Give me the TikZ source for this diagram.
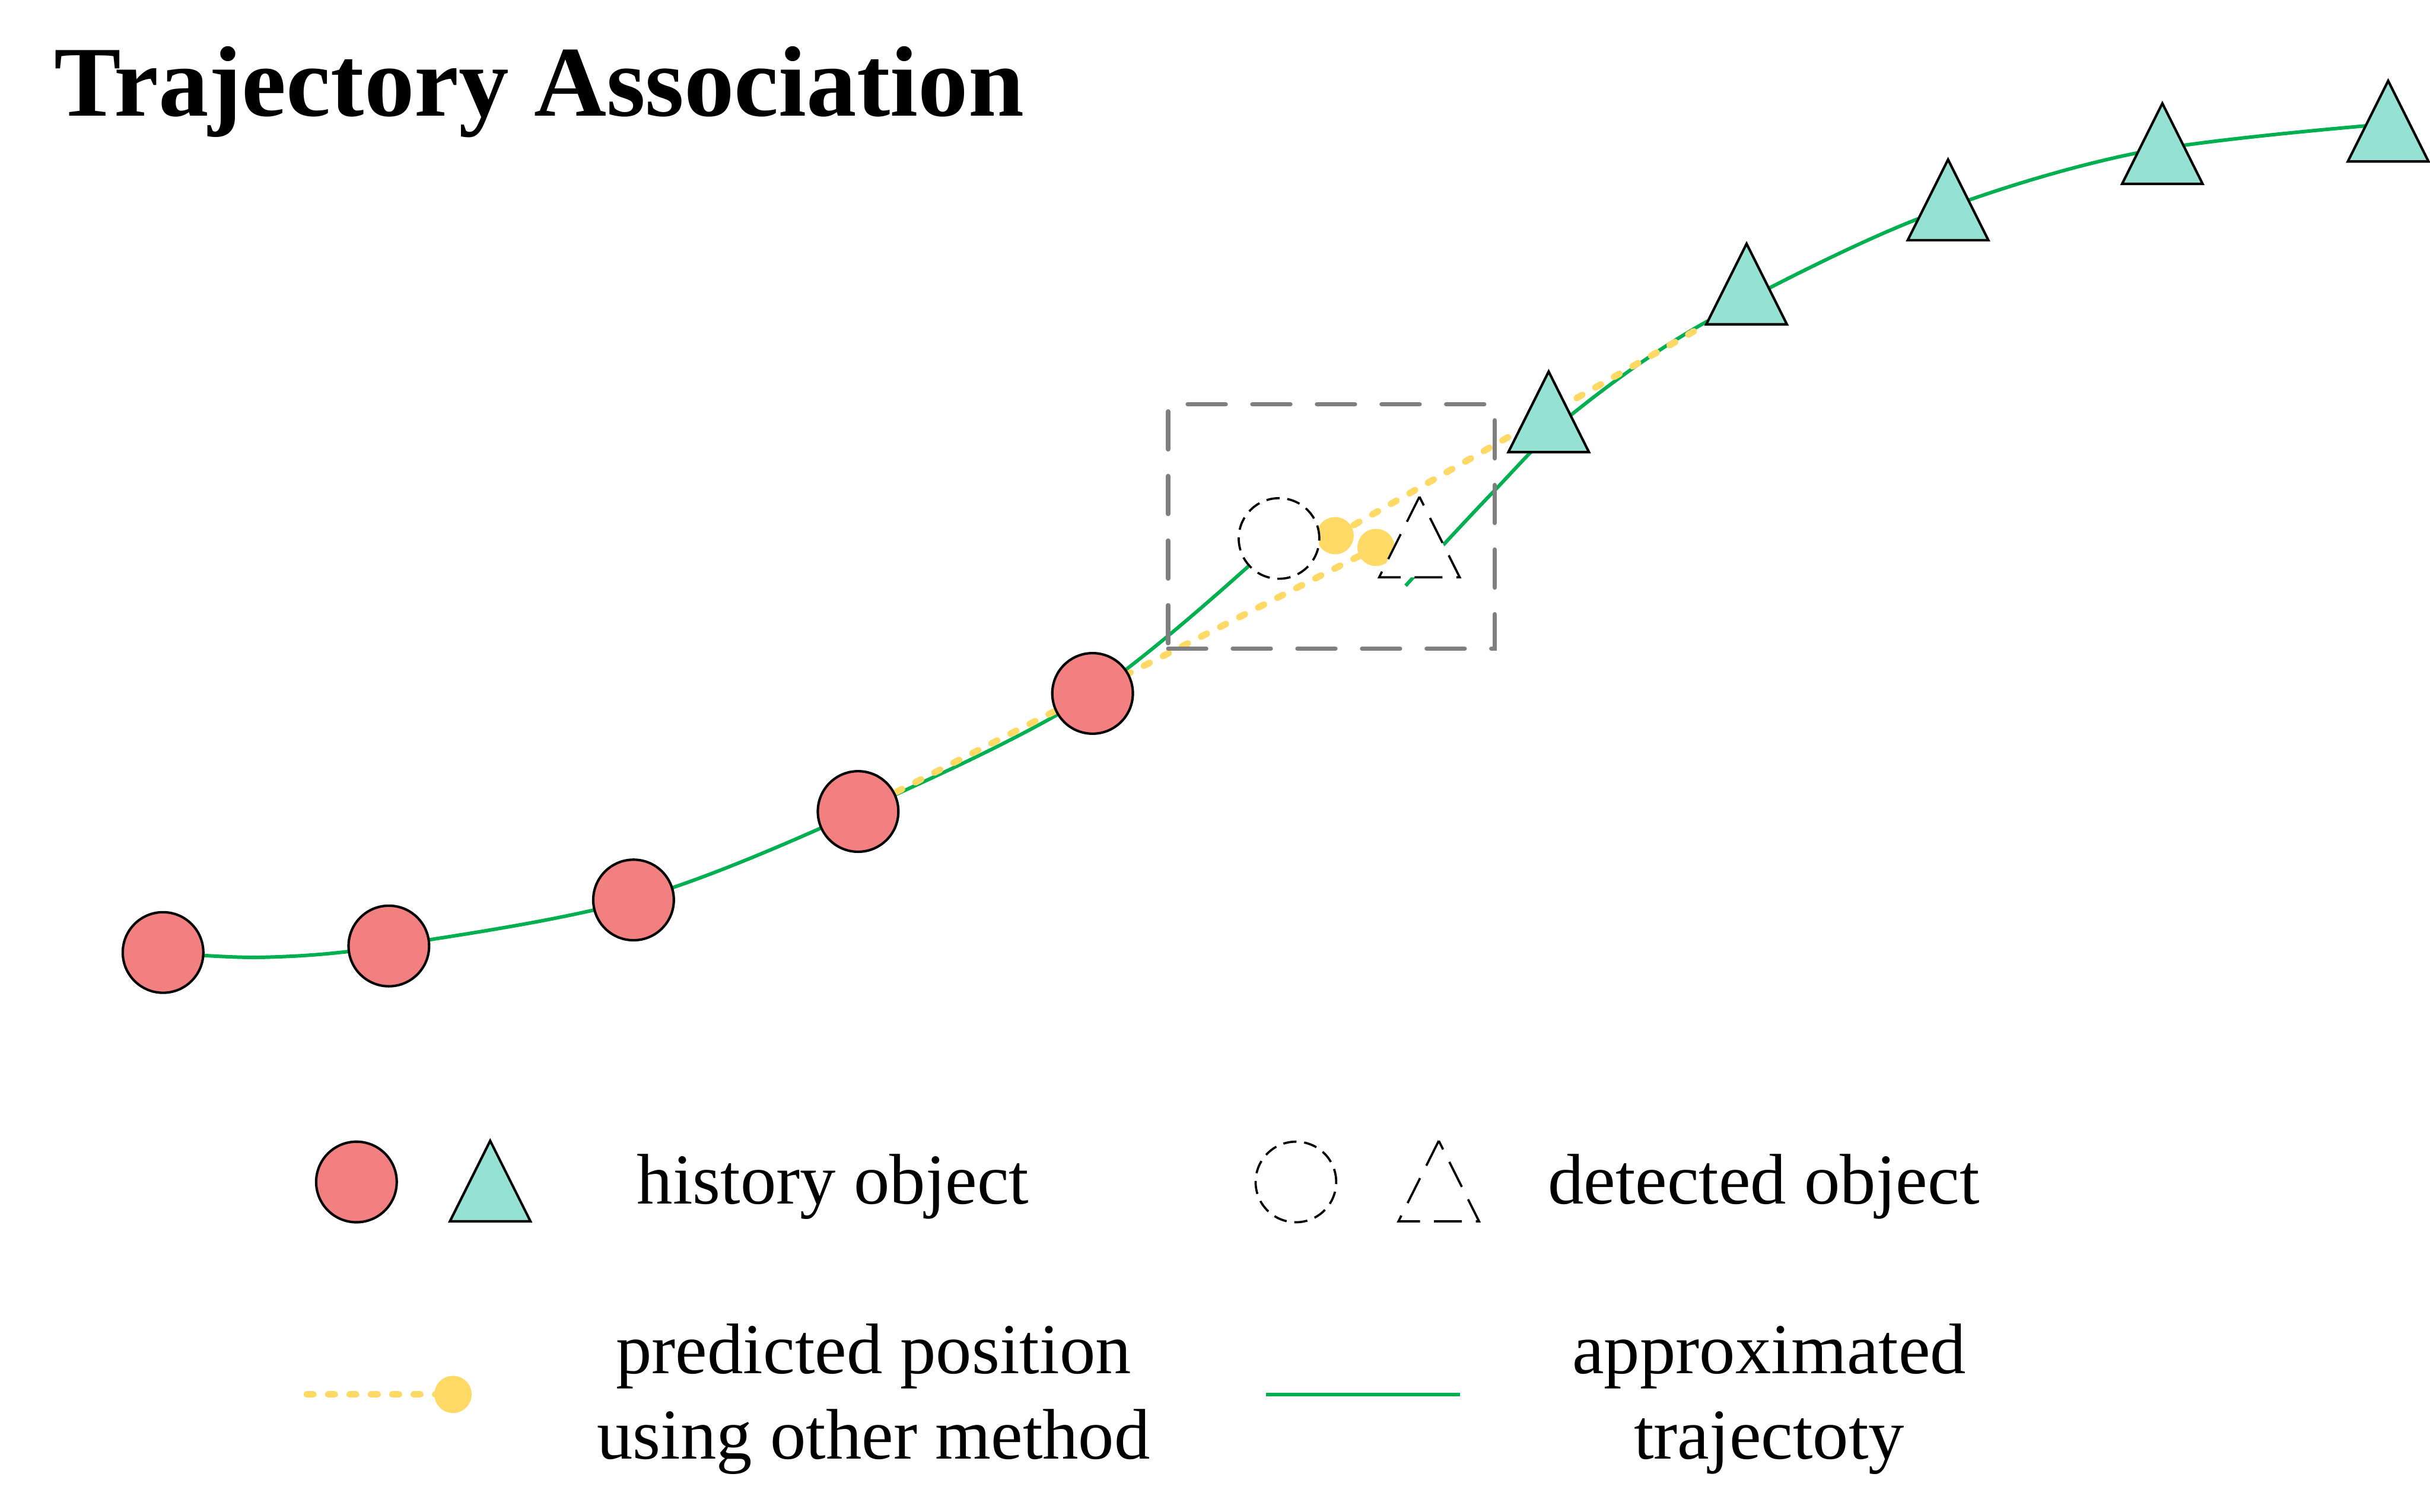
\documentclass[tikz,border=0pt]{standalone}
\usepackage{fontspec}
\setmainfont{Liberation Serif}
\usetikzlibrary{shapes.geometric}
\pgfdeclarelayer{background}
\pgfsetlayers{background,main}
\definecolor{histred}{HTML}{F28080}
\definecolor{histteal}{HTML}{95E1D3}
\definecolor{predyellow}{HTML}{FFD966}
\definecolor{trajgreen}{HTML}{00B050}
\definecolor{boxgray}{HTML}{7F7F7F}
\tikzset{
  histcirc/.style={circle, draw=black, line width=0.45pt, fill=histred,
    minimum size=5.2mm, inner sep=0pt, outer sep=0pt},
  trishape/.style={isosceles triangle, isosceles triangle stretches,
    shape border rotate=90, minimum width=5.2mm, minimum height=5.2mm,
    inner sep=0pt, outer sep=0pt, anchor=apex},
  histtri/.style={trishape, draw=black, line width=0.45pt, fill=histteal},
  detcirc/.style={circle, draw=black, line width=0.4pt, fill=white,
    dash pattern=on 0.85mm off 0.5mm, minimum size=5.2mm, inner sep=0pt, outer sep=0pt},
  dettri/.style={trishape, draw=black, line width=0.4pt, fill=white,
    dash pattern=on 1.8mm off 0.9mm},
  preddot/.style={circle, fill=predyellow, minimum size=2.4mm, inner sep=0pt, outer sep=0pt},
  predline/.style={draw=predyellow, line width=1.2pt, line cap=round,
    dash pattern=on 0.42mm off 0.96mm},
  trajline/.style={draw=trajgreen, line width=0.65pt},
  assocbox/.style={draw=boxgray, line width=0.8pt, line cap=round,
    dash pattern=on 2.45mm off 1.72mm, rectangle, inner sep=0pt, outer sep=0pt,
    minimum width=21.07mm, minimum height=15.78mm},
  legtext/.style={font=\fontsize{13.15}{15.7}\selectfont, inner sep=0pt, align=center},
  titletext/.style={font=\fontsize{18.4}{22}\selectfont\bfseries, inner sep=0pt}
}
\begin{document}
\begin{tikzpicture}[x=0.1mm, y=-0.1mm]
\useasboundingbox (0,0) rectangle (1568,975.6);

% title
\node[titletext, anchor=base west] (title) at (34.5,75) {Trajectory Association};

% association box
\node[assocbox] (assoc) at (859.15,339.8) {};

% history objects (circles)
\node[histcirc] (c1) at (105.2,614.7) {};
\node[histcirc] (c2) at (250.9,610.5) {};
\node[histcirc] (c3) at (408.8,580.8) {};
\node[histcirc] (c4) at (553.7,523.7) {};
\node[histcirc] (c5) at (705,447.5) {};

% history objects (triangles), placed by apex
\node[histtri] (t1) at (999.3,239.8) {};
\node[histtri] (t2) at (1127,157.3) {};
\node[histtri] (t3) at (1257,103) {};
\node[histtri] (t4) at (1395.3,66.7) {};
\node[histtri] (t5) at (1541,52.2) {};

% predicted positions
\node[preddot] (dot1) at (861.5,345.7) {};
\node[preddot] (dot2) at (887.9,353.3) {};

% detected objects
\node[detcirc] (dc) at (825.3,347.5) {};
\node[dettri] (dt) at (915.9,320.6) {};

% trajectory helper points
\coordinate (g1) at (170,617.8);
\coordinate (gs) at (907,378);
\coordinate (ga) at (963,318);
\coordinate (gb) at (1014,267.6);
\coordinate (gc) at (1098.7,209);
\coordinate (gd) at (1236.7,141.6);
\coordinate (ge) at (1379,98.7);
\coordinate (gf) at (1541,80);

% legend
\node[histcirc] (lc) at (230,762.8) {};
\node[histtri] (lt) at (316.3,736.2) {};
\node[legtext, anchor=base] (lhist) at (537.5,776.8) {history object};
\node[detcirc] (ldc) at (836.2,762.8) {};
\node[dettri] (ldt) at (928.4,736.2) {};
\node[legtext, anchor=base] (ldet) at (1138,776.8) {detected object};
\coordinate (lps) at (198,899.9);
\node[preddot] (ldot) at (292.3,899.9) {};
\node[legtext, anchor=base] (lpred) at (563.7,941.4) {predicted position\\using other method};
\coordinate (lgs) at (817,900);
\coordinate (lge) at (942,900);
\node[legtext, anchor=base] (ltraj) at (1141.6,941.4) {approximated\\trajectoty};

\begin{pgfonlayer}{background}
  \draw[trajline] plot[smooth, tension=0.55] coordinates
    {(c1.center) (g1) (c2.center) (c3.center) (c4.center) (c5.center) (dc.center)};
  \draw[trajline] plot[smooth, tension=0.55] coordinates
    {(gs) (ga) (gb) (gc) (gd) (ge) (gf)};
  \draw[predline] (c4.center) -- (dot2.center);
  \draw[predline] (dot1.center) -- (t2.left corner);
  \draw[predline] (lps) -- (ldot.center);
  \draw[trajline] (lgs) -- (lge);
\end{pgfonlayer}
\end{tikzpicture}
\end{document}
